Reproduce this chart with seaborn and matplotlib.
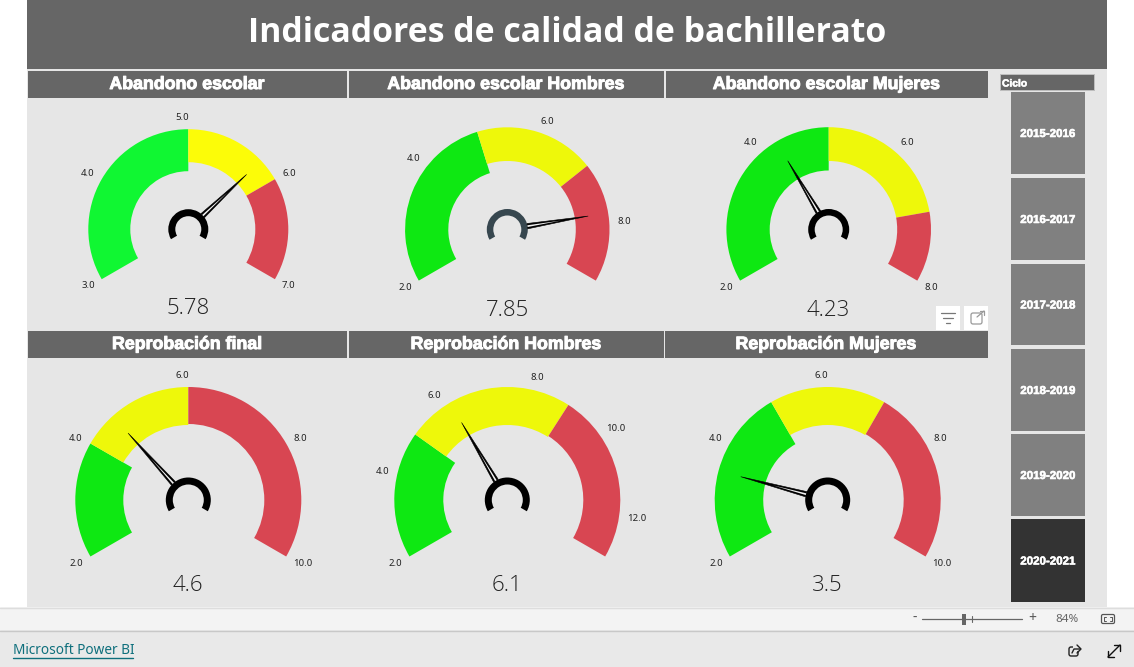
import numpy as np
import matplotlib
matplotlib.use("Agg")
import matplotlib.pyplot as plt
from matplotlib.patches import Rectangle, FancyBboxPatch
import matplotlib.patheffects as pe
from matplotlib import font_manager as fm
import seaborn as sns

sns.set_theme(style="white")
plt.rcParams['font.family'] = ['Noto Sans', 'DejaVu Sans']

W, H = 1134, 667

# ---- data ----
report_title = "Indicadores de calidad de bachillerato"
gauge_titles = ["Abandono escolar", "Abandono escolar Hombres", "Abandono escolar Mujeres",
                "Reprobación final", "Reprobación Hombres", "Reprobación Mujeres"]
gauge_min = [3, 2, 2, 2, 2, 2]
gauge_max = [7, 9, 8, 10, 13, 10]
green_to = [5, 5, 5, 4, 5, 5]
yellow_to = [6, 7, 7, 6, 9, 7]
gauge_values = [5.78, 7.85, 4.23, 4.6, 6.1, 3.5]
value_labels = ["5.78", "7.85", "4.23", "4.6", "6.1", "3.5"]
tick_values = [[3, 4, 5, 6, 7], [2, 4, 6, 8], [2, 4, 6, 8],
               [2, 4, 6, 8, 10], [2, 4, 6, 8, 10, 12], [2, 4, 6, 8, 10]]
cycles = ["2015-2016", "2016-2017", "2017-2018", "2018-2019", "2019-2020", "2020-2021"]
selected_cycle = "2020-2021"
slicer_title = "Ciclo"
zoom_label = "84%"
footer_label = "Microsoft Power BI"

# ---- layout / style ----
centers = [(188.3, 229.2), (507.3, 229.5), (828.7, 229.5), (188.3, 500), (507.3, 500), (827.7, 500)]
outer_r = [100, 102.2, 102.3, 113, 113, 113]
inner_r = [(58, 67, 67), (59, 68.5, 68.5), (59, 68.5, 68.5), (65, 75, 76), (64, 75, 76), (64.5, 75, 76)]
needle_r = [80, 82, 80, 90, 90, 90]
hub_r = [(13, 20), (14, 20.5), (14, 20.5), (15.5, 22.5), (15.5, 22.5), (15.5, 22.5)]
hub_colors = ["#000000", "#37474F", "#000000", "#000000", "#000000", "#000000"]
greens = ["#10F732", "#0EE812", "#0EE812", "#0EE812", "#0EE812", "#0EE812"]
yellows = ["#FCFC08", "#EEF80A", "#EEF80A", "#EEF80A", "#EEF80A", "#EEF80A"]
red = "#D84652"
value_y = [308, 310, 310, 585.5, 585.5, 585.5]
header_x = [(28, 347), (349, 664), (666, 988)]
lower_header_x = [(28, 347), (349, 664), (665, 988)]

has_light = any(f.name == "Open Sans" and str(f.weight) in ("300", "light") for f in fm.fontManager.ttflist)
value_font = dict(family="Open Sans", fontweight="light" if has_light else "normal")

fig = plt.figure(figsize=(W / 100, H / 100), dpi=100, facecolor="white")
bg = fig.add_axes([0, 0, 1, 1])
bg.set_xlim(0, W)
bg.set_ylim(H, 0)
bg.axis("off")


def rect(x0, y0, x1, y1, color, **kw):
    bg.add_patch(Rectangle((x0, y0), x1 - x0, y1 - y0, facecolor=color, edgecolor="none", **kw))


rect(27, 0, 1107, 607, "#E6E6E6")
rect(27, 0, 1107, 69, "#666666")
bg.text(567, 33.5, report_title, color="white", ha="center", va="center",
        fontsize=24.4, fontweight="bold", family="Open Sans")

stroke = [pe.withStroke(linewidth=0.7, foreground="white")]
thin_stroke = [pe.withStroke(linewidth=0.4, foreground="white")]
for i, t in enumerate(gauge_titles):
    x0, x1 = header_x[i] if i < 3 else lower_header_x[i - 3]
    y0, y1 = (71, 98) if i < 3 else (331, 358)
    rect(x0, y0, x1, y1, "#666666")
    bg.text((x0 + x1) / 2 - 0.5, (y0 + y1) / 2, t, color="white", ha="center", va="center",
            fontsize=12.8, fontweight="bold", family="Liberation Sans", path_effects=stroke)

# slicer
rect(1000, 74, 1095, 91, "#BDBDBD")
rect(1001, 75, 1094, 90, "#666666")
bg.text(1002, 83.5, slicer_title, color="white", ha="left", va="center", fontsize=7.4,
        fontweight="bold", family="Liberation Sans", path_effects=thin_stroke)
btn_y = [(92, 174), (178, 260), (264, 345), (349, 431), (434, 516), (519, 602)]
for c, (y0, y1) in zip(cycles, btn_y):
    rect(1011, y0, 1085, y1, "#333333" if c == selected_cycle else "#808080")
    bg.text(1048, (y0 + y1) / 2 + 1, c, color="white", ha="center", va="center", fontsize=8.3,
            fontweight="bold", family="Liberation Sans", path_effects=thin_stroke)

# visual header icons
for x0 in (936, 964):
    rect(x0, 306, x0 + 24, 330, "white")
for hw, y in zip((7, 5, 2), (313, 318, 323)):
    bg.plot([948 - hw, 948 + hw], [y, y], color="#777777", lw=0.9)
bg.add_patch(FancyBboxPatch((971, 313), 11, 11, boxstyle="round,pad=0,rounding_size=2",
                            fill=False, edgecolor="#999999", lw=0.9))
bg.plot([977, 984], [317, 311], color="#999999", lw=0.9)
rect(978, 309, 986, 316, "white", zorder=0.5)
bg.plot([980, 984, 984], [311, 311, 315], color="#999999", lw=0.9)

# status and footer bars
rect(0, 607, W, 630, "#F3F3F3")
rect(0, 630, W, H, "#E9E9E9")
bg.plot([0, W], [607.5, 607.5], color="#DDDDDD", lw=1)
bg.plot([0, W], [630.5, 630.5], color="#C8C8C8", lw=1)
bg.text(915, 618.5, "-", color="#555555", ha="center", va="center", fontsize=10, fontweight="bold")
bg.plot([922, 1022], [619, 619], color="#666666", lw=0.9)
rect(962, 614, 966, 625, "#666666")
bg.plot([972, 972], [616, 622], color="#666666", lw=0.8)
bg.text(1032, 618.5, "+", color="#555555", ha="center", va="center", fontsize=10)
bg.text(1067, 619, zoom_label, color="#666666", ha="center", va="center", fontsize=8.4)
bg.add_patch(FancyBboxPatch((1101.5, 614.5), 13, 9, boxstyle="round,pad=0,rounding_size=1.5",
                            fill=False, edgecolor="#555555", lw=0.9))
for sx, sy in ((1, 1), (-1, 1), (1, -1), (-1, -1)):
    xc, yc = 1108 + sx * 4, 619 + sy * 2
    bg.plot([xc - sx * 2, xc, xc], [yc, yc, yc - sy * 2], color="#555555", lw=0.7)
bg.text(13, 651, footer_label, color="#0E6F7C", ha="left", va="center", fontsize=9.8)
bg.plot([13, 133], [657.5, 657.5], color="#0E6F7C", lw=1)
# share icon
bg.add_patch(FancyBboxPatch((1069, 647), 9, 9, boxstyle="round,pad=0,rounding_size=2",
                            fill=False, edgecolor="#222222", lw=1))
rect(1073, 644, 1082, 651, "#E9E9E9", zorder=2.5)
bg.plot([1072, 1074, 1080], [653, 649, 649], color="#222222", lw=1, zorder=3)
bg.plot([1077, 1081, 1077], [645, 649, 653], color="#222222", lw=1, zorder=3)
# expand icon
bg.plot([1108, 1120], [657, 645], color="#111111", lw=1)
bg.plot([1114, 1120, 1120], [645, 645, 651], color="#111111", lw=1)
bg.plot([1108, 1108, 1114], [651, 657, 657], color="#111111", lw=1)

SWEEP = np.deg2rad(240)
AX_R = 160


def add_band(ax, t0, t1, r0, r1, color):
    ax.bar((t0 + t1) / 2, r1 - r0, width=t1 - t0, bottom=r0, color=color, linewidth=0)


for i in range(6):
    cx, cy = centers[i]
    ax = fig.add_axes([(cx - AX_R) / W, 1 - (cy + AX_R) / H, 2 * AX_R / W, 2 * AX_R / H],
                      projection="polar")
    ax.set_theta_zero_location("N")
    ax.set_theta_direction(-1)
    ax.set_ylim(0, AX_R)
    ax.patch.set_alpha(0)
    ax.axis("off")

    lo, hi = gauge_min[i], gauge_max[i]
    to_theta = lambda v, lo=lo, hi=hi: -SWEEP / 2 + SWEEP * (v - lo) / (hi - lo)

    edges = [lo, green_to[i], yellow_to[i], hi]
    for j, col in enumerate((greens[i], yellows[i], red)):
        add_band(ax, to_theta(edges[j]), to_theta(edges[j + 1]), inner_r[i][j], outer_r[i], col)

    # hub
    add_band(ax, -SWEEP / 2, SWEEP / 2, hub_r[i][0], hub_r[i][1], hub_colors[i])

    # needle
    th = to_theta(gauge_values[i])
    base = hub_r[i][1]
    hw = 2.7 / base
    ax.fill([th - hw, th, th + hw], [base, needle_r[i], base], color="black", lw=0.4, zorder=4)
    slit = 0.9 / base
    ax.fill([th - slit, th, th + slit], [base, base + 34, base], color="#F0F0F0", lw=0, zorder=5)

    # tick labels
    for v in tick_values[i]:
        t = to_theta(v)
        text = f"{v:.1f}"
        L = outer_r[i] + 12
        side = 1 if t > 1e-6 else -1
        shift = side * (3.4 + 2.9 * max(np.cos(t), 0) ** 2)
        if side > 0 and len(text) > 3:
            shift += 2.5
        bg.text(cx + L * np.sin(t) + shift, cy - L * np.cos(t) + 0.7, text, color="#222222",
                ha="center", va="center", fontsize=6.9)

    bg.text(cx, value_y[i], value_labels[i], color="#222222", ha="center", va="center",
            fontsize=16, **value_font)

fig.savefig("out.png", dpi=100, facecolor="white")
